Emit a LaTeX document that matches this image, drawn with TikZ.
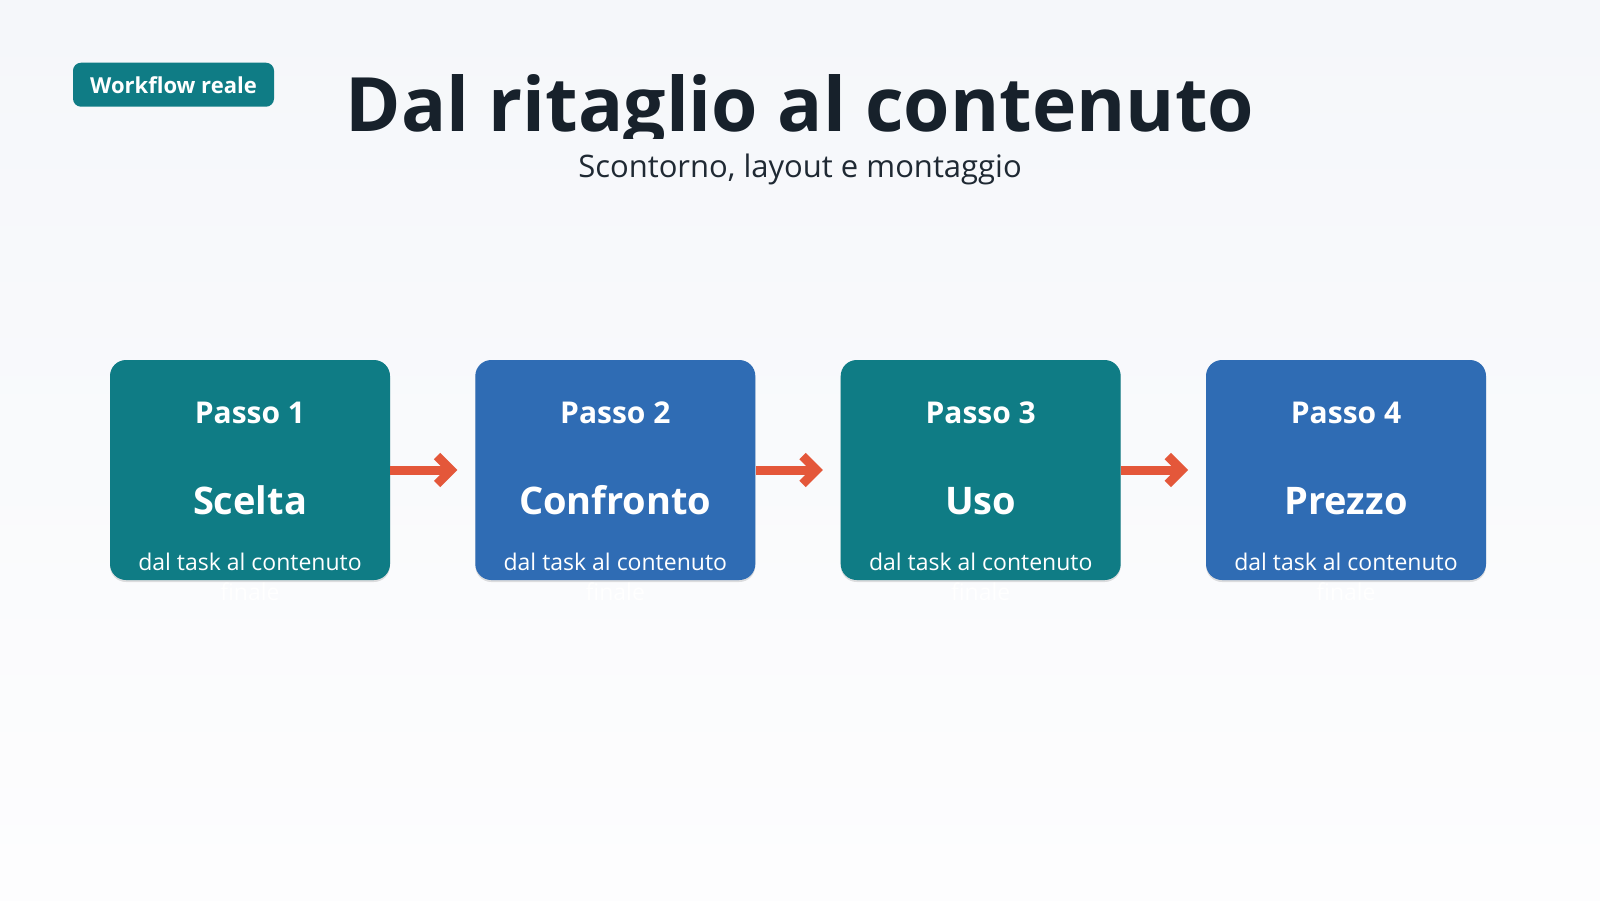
\documentclass[tikz,border=0pt]{standalone}
\usepackage{fontspec}
\setmainfont{Open Sans}
\usetikzlibrary{calc,shadows}
\definecolor{bgtop}{HTML}{F5F7FA}
\definecolor{bgbot}{HTML}{FDFDFE}
\definecolor{inkdark}{HTML}{17212B}
\definecolor{inksub}{HTML}{1F2933}
\definecolor{tealbox}{HTML}{0F7C85}
\definecolor{bluebox}{HTML}{2F6CB4}
\definecolor{flowred}{HTML}{E4573A}
\tikzset{
  stepbox/.style={rounded corners=16pt, minimum width=280pt, minimum height=220pt, inner sep=0pt, draw=none,
    drop shadow={shadow xshift=0pt, shadow yshift=-2pt, opacity=0.12, fill=black}},
  passo/.style={anchor=base, text=white, font=\fontsize{30}{34}\selectfont\bfseries, inner sep=0pt},
  stepname/.style={anchor=base, text=white, font=\fontsize{38}{44}\selectfont\bfseries, inner sep=0pt},
  stepnote/.style={anchor=base, text=white, font=\fontsize{23}{28}\selectfont, inner sep=0pt},
  flow/.style={draw=flowred, line width=9pt},
  flowhead/.style={draw=flowred, line width=9pt, line join=miter},
  badge/.style={fill=tealbox, rounded corners=8pt, minimum width=201pt, minimum height=44pt, inner sep=0pt,
    text=white, font=\fontsize{22}{26}\selectfont\bfseries},
  titletext/.style={anchor=base, text=inkdark, font=\fontsize{75}{90}\selectfont\bfseries, inner sep=0pt},
  subtext/.style={anchor=base, text=inksub, font=\fontsize{31}{36}\selectfont, inner sep=0pt},
}
\begin{document}
\begin{tikzpicture}[x=1pt,y=-1pt]
\useasboundingbox (0,0) rectangle (1600,900);
\shade[top color=bgtop, bottom color=bgbot] (0,0) rectangle (1600,900);

\node[badge] (badge) at (173.5,84.7) {Workflow reale};
\begin{scope}
  \clip (0,0) rectangle (1600,138);
  \node[titletext] (title) at (800,131.7) {Dal ritaglio al contenuto};
\end{scope}
\node[subtext] (sub) at (800,177.5) {Scontorno, layout e montaggio};

\node[stepbox, fill=tealbox] (b1) at (250,470) {};
\node[stepbox, fill=bluebox] (b2) at (615.3,470) {};
\node[stepbox, fill=tealbox] (b3) at (980.7,470) {};
\node[stepbox, fill=bluebox] (b4) at (1346,470) {};

\foreach \i/\name in {1/Scelta,2/Confronto,3/Uso,4/Prezzo}{
  \node[passo] (p\i) at ($(b\i.center)+(0,-47)$) {Passo \i};
  \node[stepname] (n\i) at ($(b\i.center)+(0,44)$) {\name};
  \node[stepnote] (d\i) at ($(b\i.center)+(0,100)$) {dal task al contenuto};
  \node[stepnote] (f\i) at ($(b\i.center)+(0,130)$) {finale};
}

\foreach \a/\b in {b1/b2,b2/b3,b3/b4}{
  \draw[flow] (\a.east) -- ($(\b.west)+(-25,0)$);
  \draw[flowhead] ($(\b.west)+(-38,-14)$) -- ($(\b.west)+(-24,0)$) -- ($(\b.west)+(-38,14)$);
}
\end{tikzpicture}
\end{document}
